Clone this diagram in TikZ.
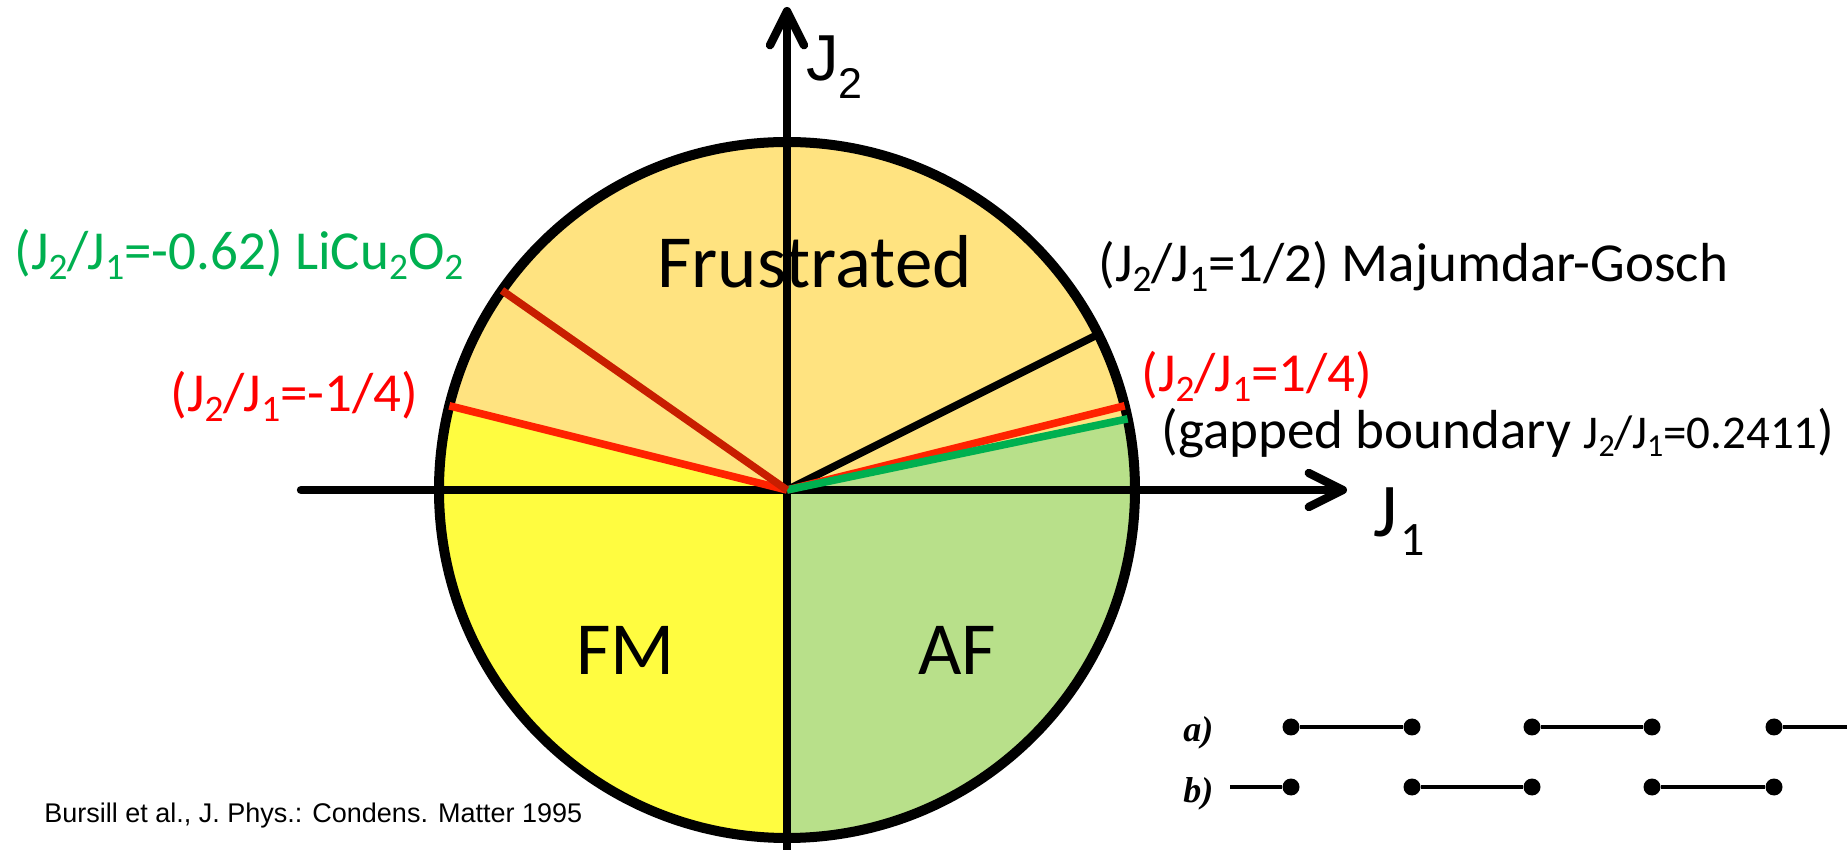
\documentclass[tikz,border=0pt]{standalone}
\usepackage{fontspec}
\setmainfont{Carlito}
\newfontfamily\arialf{Liberation Sans}
\newfontfamily\tmsf{Liberation Serif}
\usetikzlibrary{arrows.meta}
\definecolor{frus}{RGB}{255,227,128}
\definecolor{fmc}{RGB}{255,252,64}
\definecolor{afc}{RGB}{184,224,138}
\definecolor{redl}{RGB}{255,34,0}
\definecolor{dredl}{RGB}{200,30,0}
\definecolor{greenl}{RGB}{0,176,80}
\definecolor{redt}{RGB}{255,0,0}
\newcommand\lo[1]{\raisebox{-0.17em}{\scalebox{0.68}{#1}}}
\begin{document}
\begin{tikzpicture}[x=0.5pt,y=0.5pt,
  axisline/.style={line width=4.2pt,line cap=round,-{Straight Barb[length=17pt,width=17pt,round]}},
  segline/.style={line width=3.8pt},
  lbl/.style={inner sep=0pt,anchor=base west,font=\fontsize{27.5pt}{33pt}\selectfont},
  region/.style={font=\fontsize{37.5pt}{44pt}\selectfont,inner sep=0pt,anchor=base west},
  dot/.style={circle,fill=black,inner sep=0pt,minimum size=8.5pt},
  bond/.style={line width=2.4pt},
  chainlbl/.style={inner sep=0pt,anchor=base west,font=\tmsf\bfseries\itshape\fontsize{18pt}{21pt}\selectfont}]
\useasboundingbox (-787,-360) rectangle (1060,490);
\coordinate (O) at (0,0);
% regions
\fill[frus] (O) -- (12:348) arc (12:166:348) -- cycle;
\fill[fmc] (O) -- (166:348) arc (166:270:348) -- cycle;
\fill[afc] (O) -- (-90:348) arc (-90:12:348) -- cycle;
% circle
\draw[line width=5pt] (O) circle (348);
% axes
\coordinate (xs) at (-486,0);
\coordinate (xe) at (560,0);
\coordinate (ys) at (0,-362);
\coordinate (ye) at (0,483);
\draw[axisline] (xs) -- (xe);
\draw[axisline] (ys) -- (ye);
% boundary lines
\coordinate (pMG) at (26.57:348);
\coordinate (pQ) at (14:348);
\coordinate (pG) at (11.8:348);
\coordinate (pmQ) at (166:348);
\coordinate (pLi) at (145:348);
\draw[segline,black] (O) -- (pMG);
\draw[segline,redl] (O) -- (pQ);
\draw[segline,greenl] (O) -- (pG);
\draw[segline,redl] (O) -- (pmQ);
\draw[segline,dredl] (O) -- (pLi);
% region labels
\node[region] (tfr) at (-130,202) {Frustrated};
\node[region] (tfm) at (-211,-185) {FM};
\node[region] (taf) at (131,-185) {AF};
% axis labels
\node[inner sep=0pt,anchor=base west] (tj1) at (586,-47) {\fontsize{38pt}{44pt}\selectfont J\kern1.5pt\raisebox{-9.5pt}{\fontsize{24pt}{28pt}\selectfont 1}};
\node[inner sep=0pt,anchor=base west] (tj2) at (19,409) {\arialf\fontsize{32.5pt}{38pt}\selectfont J\raisebox{-9pt}{\fontsize{21.5pt}{26pt}\selectfont 2}};
% annotations
\node[lbl,text=greenl] (tli) at (-773,220) {(J\lo{2}/J\lo{1}=-0.62) LiCu\lo{2}O\lo{2}};
\node[lbl,text=redt] (tmq) at (-617,78) {(J\lo{2}/J\lo{1}=-1/4)};
\node[lbl] (tmg) at (311,208) {(J\lo{2}/J\lo{1}=1/2) Majumdar-Gosch};
\node[lbl,text=redt] (tq) at (354,98) {(J\lo{2}/J\lo{1}=1/4)};
\node[lbl] (tg) at (374,41) {(gapped boundary {\fontsize{23.5pt}{28pt}\selectfont J\lo{2}/J\lo{1}=0.2411})};
% citation
\node[inner sep=0pt,anchor=base west,font=\arialf\fontsize{13.5pt}{16pt}\selectfont] (cit) at (-743,-332) {Bursill et al., J. Phys.: Condens. Matter 1995};
% dimer chains
\node[chainlbl] (la) at (396,-252) {a)};
\node[chainlbl] (lb) at (396,-313) {b)};
\foreach \i/\x in {1/504,2/625,3/745,4/865,5/987}{
  \node[dot] (a\i) at (\x,-237) {};
  \node[dot] (b\i) at (\x,-297) {};
}
\coordinate (aend) at (1062,-237);
\coordinate (bstart) at (443,-297);
\draw[bond] (a1) -- (a2);
\draw[bond] (a3) -- (a4);
\draw[bond] (a5) -- (aend);
\draw[bond] (bstart) -- (b1);
\draw[bond] (b2) -- (b3);
\draw[bond] (b4) -- (b5);
\end{tikzpicture}
\end{document}
